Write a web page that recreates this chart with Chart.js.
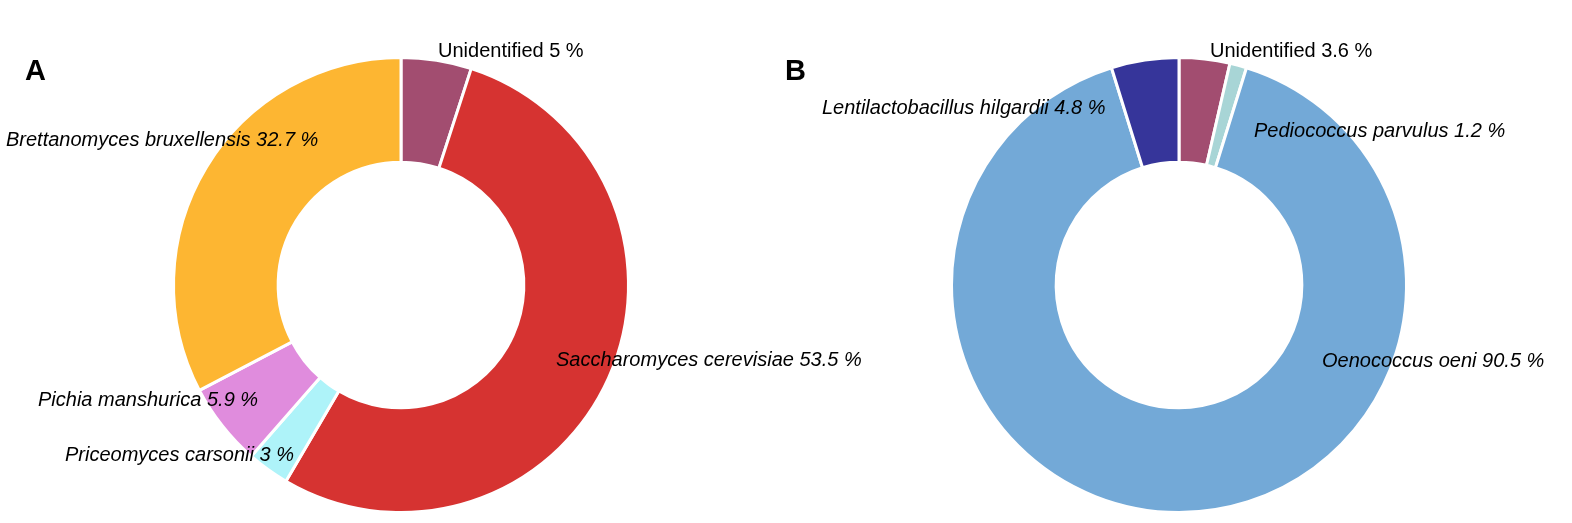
<!DOCTYPE html>
<html>
<head>
<meta charset="utf-8">
<script src="https://cdn.jsdelivr.net/npm/chart.js@4"></script>
<style>
  html, body { margin: 0; padding: 0; background: #ffffff; }
  #wrap { position: relative; width: 1572px; height: 523px; overflow: hidden; }
  #wrap canvas { position: absolute; left: 0; top: 0; }
</style>
</head>
<body>
<div id="wrap">
  <canvas id="chartA" width="1572" height="523"></canvas>
  <canvas id="chartB" width="1572" height="523"></canvas>
</div>
<script>
// ---- Data: panel A (fungi) ----
const labelsA = ["Unidentified", "Saccharomyces cerevisiae", "Priceomyces carsonii", "Pichia manshurica", "Brettanomyces bruxellensis"];
const valuesA = [5, 53.5, 3, 5.9, 32.7];
const italicA = [false, true, true, true, true];
const colorsA = ["#a24d70", "#d63331", "#aef3f9", "#e08cdd", "#fdb632"];

// ---- Data: panel B (bacteria) ----
const labelsB = ["Unidentified", "Pediococcus parvulus", "Oenococcus oeni", "Lentilactobacillus hilgardii"];
const valuesB = [3.6, 1.2, 90.5, 4.8];
const italicB = [false, true, true, true];
const colorsB = ["#a24d70", "#a8d5d6", "#73a9d7", "#36359a"];

// ---- Label placement (layout: text anchor = left x, baseline y) ----
const labelPosA = [[438, 57], [556, 366], [65, 461], [38, 406], [6, 146]];
const labelPosB = [[1210, 57], [1254, 137], [1322, 367], [822, 114]];
const letterPosA = [25, 80];
const letterPosB = [785, 80];

const FONT = '"Liberation Sans", Arial, sans-serif';

function labelPlugin(panelLetter, letterPos, labels, values, italics, positions) {
  return {
    id: 'sliceLabels' + panelLetter,
    afterDraw(chart) {
      const ctx = chart.ctx;
      ctx.save();
      ctx.fillStyle = '#000000';
      ctx.textAlign = 'left';
      ctx.textBaseline = 'alphabetic';
      ctx.font = 'bold 29px ' + FONT;
      ctx.fillText(panelLetter, letterPos[0], letterPos[1]);
      labels.forEach((lab, i) => {
        ctx.font = (italics[i] ? 'italic ' : '') + '20px ' + FONT;
        ctx.fillText(lab + ' ' + values[i] + ' %', positions[i][0], positions[i][1]);
      });
      ctx.restore();
    }
  };
}

function makeDonut(id, labels, values, colors, padding, plugin) {
  return new Chart(document.getElementById(id), {
    type: 'doughnut',
    data: {
      labels: labels,
      datasets: [{
        data: values,
        backgroundColor: colors,
        borderColor: '#ffffff',
        borderWidth: 3,
        hoverOffset: 0
      }]
    },
    options: {
      responsive: false,
      animation: false,
      cutout: '54%',
      layout: { padding: padding },
      plugins: { legend: { display: false }, tooltip: { enabled: false } },
      events: []
    },
    plugins: [plugin]
  });
}

Chart.defaults.font.family = FONT;

// Panel A: centre (401, 285)
makeDonut('chartA', labelsA, valuesA, colorsA,
  { left: 172, right: 1572 - 401 - 229, top: 56, bottom: 9 },
  labelPlugin('A', letterPosA, labelsA, valuesA, italicA, labelPosA));

// Panel B: centre (1179, 285)
makeDonut('chartB', labelsB, valuesB, colorsB,
  { left: 950, right: 1572 - 1179 - 229, top: 56, bottom: 9 },
  labelPlugin('B', letterPosB, labelsB, valuesB, italicB, labelPosB));
</script>
</body>
</html>
